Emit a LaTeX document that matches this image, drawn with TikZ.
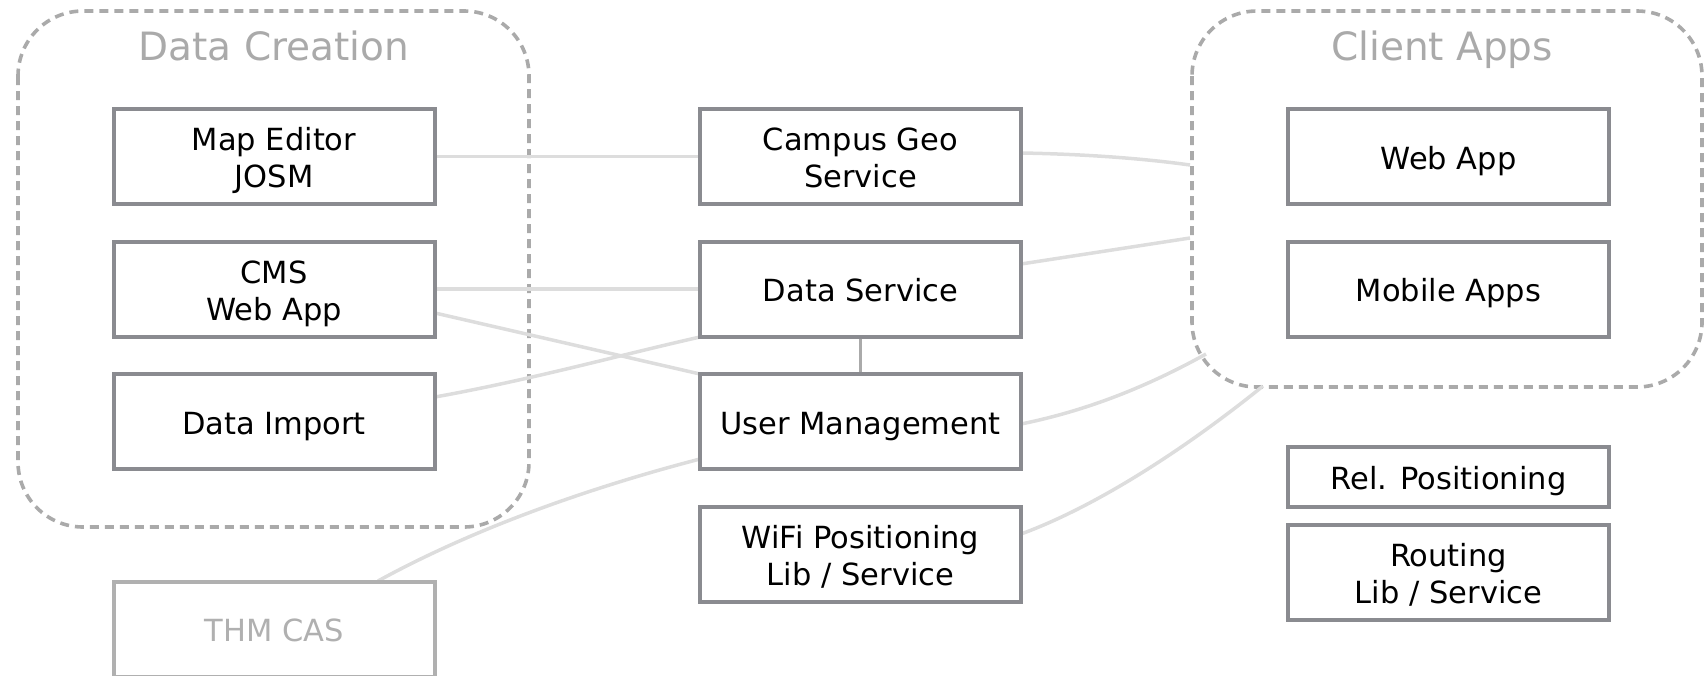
\documentclass[tikz,border=0pt]{standalone}
\usepackage{fontspec}
\setmainfont{DejaVu Sans}
\usetikzlibrary{calc}
\definecolor{boxgray}{HTML}{8A8B90}
\definecolor{dashgray}{HTML}{AAAAAA}
\definecolor{linkgray}{HTML}{DDDDDD}
\definecolor{midgray}{HTML}{AAAAAA}
\definecolor{casgray}{HTML}{B0B0B0}
\tikzset{
  compbox/.style={draw=boxgray, line width=4pt, fill=white, rectangle, inner sep=0pt,
    minimum width=321pt, minimum height=95pt, align=center,
    text height=25pt, text depth=0pt,
    font=\fontsize{30.5}{37}\selectfont},
  twoline/.style={text height=62pt, text depth=0pt},
  casbox/.style={compbox, draw=casgray, text=casgray},
  groupbox/.style={draw=dashgray, line width=3.6pt, dash pattern=on 9pt off 6pt, rounded corners=65pt},
  grouptitle/.style={text=dashgray, font=\fontsize{39}{45}\selectfont, anchor=base, inner sep=0pt},
  link/.style={draw=linkgray, line width=3.5pt},
  strong link/.style={draw=midgray, line width=3.5pt},
}
\begin{document}
\begin{tikzpicture}[x=1pt,y=-1pt]
\useasboundingbox (0,0) rectangle (1704,675);
% group boxes
\draw[groupbox] (18,11) rectangle (529,527);
\draw[groupbox] (1192,11) rectangle (1702,387);
\node[grouptitle] (tdc) at (274,60) {Data Creation};
\node[grouptitle] (tca) at (1442,60) {Client Apps};
% coordinates on group borders
\coordinate (ca1) at (1190,165);
\coordinate (ca2) at (1190,238);
\coordinate (ca3) at (1206,354);
\coordinate (ca4) at (1263,386);
% connector end points on boxes
\coordinate (cms1) at (435,313);
\coordinate (di1) at (435,397);
\coordinate (thm1) at (378,581);
\coordinate (um1) at (700,459);
\coordinate (cg1) at (1021,153);
\coordinate (ds1) at (1021,264);
\coordinate (um2) at (1021,424);
\coordinate (wf1) at (1021,534);
\coordinate (me1) at (435,156.5);
\coordinate (cg0) at (700,156.5);
\coordinate (cms0) at (435,289);
\coordinate (ds0) at (700,289);
\coordinate (umnw) at (700,374);
\coordinate (dssw) at (700,337);
\draw[link] (me1) -- (cg0);
\draw[link] (cms0) -- (ds0);
\draw[link] (cms1) -- (umnw);
\draw[link] (di1) .. controls (530,380) and (620,355) .. (dssw);
\draw[link] (thm1) .. controls (480,525) and (600,485) .. (um1);
\draw[link] (cg1) .. controls (1080,154) and (1140,158) .. (ca1);
\draw[link] (ds1) -- (ca2);
\draw[link] (um2) .. controls (1090,410) and (1150,385) .. (ca3);
\draw[link] (wf1) .. controls (1100,505) and (1190,445) .. (ca4);
% left column
\node[compbox, twoline] (me) at (274,156.5) {Map Editor\\JOSM};
\node[compbox, twoline] (cms) at (274,289) {CMS\\Web App};
\node[compbox] (di) at (274,421.5) {Data Import};
\node[casbox] (thm) at (274,629) {THM CAS};
% middle column
\node[compbox, twoline] (cg) at (860.5,156.5) {Campus Geo\\Service};
\node[compbox] (ds) at (860.5,289) {Data Service};
\node[compbox] (um) at (860.5,421.5) {User Management};
\node[compbox, twoline] (wf) at (860.5,554) {WiFi Positioning\\Lib / Service};
% right column
\node[compbox] (wa) at (1448.5,156.5) {Web App};
\node[compbox] (ma) at (1448.5,289) {Mobile Apps};
\node[compbox, minimum height=60pt] (rp) at (1448.5,476.5) {Rel. Positioning};
\node[compbox, twoline] (rt) at (1448.5,572) {Routing\\Lib / Service};
% data service -- user management
\draw[strong link] (ds.south) -- (um.north);
\end{tikzpicture}
\end{document}
